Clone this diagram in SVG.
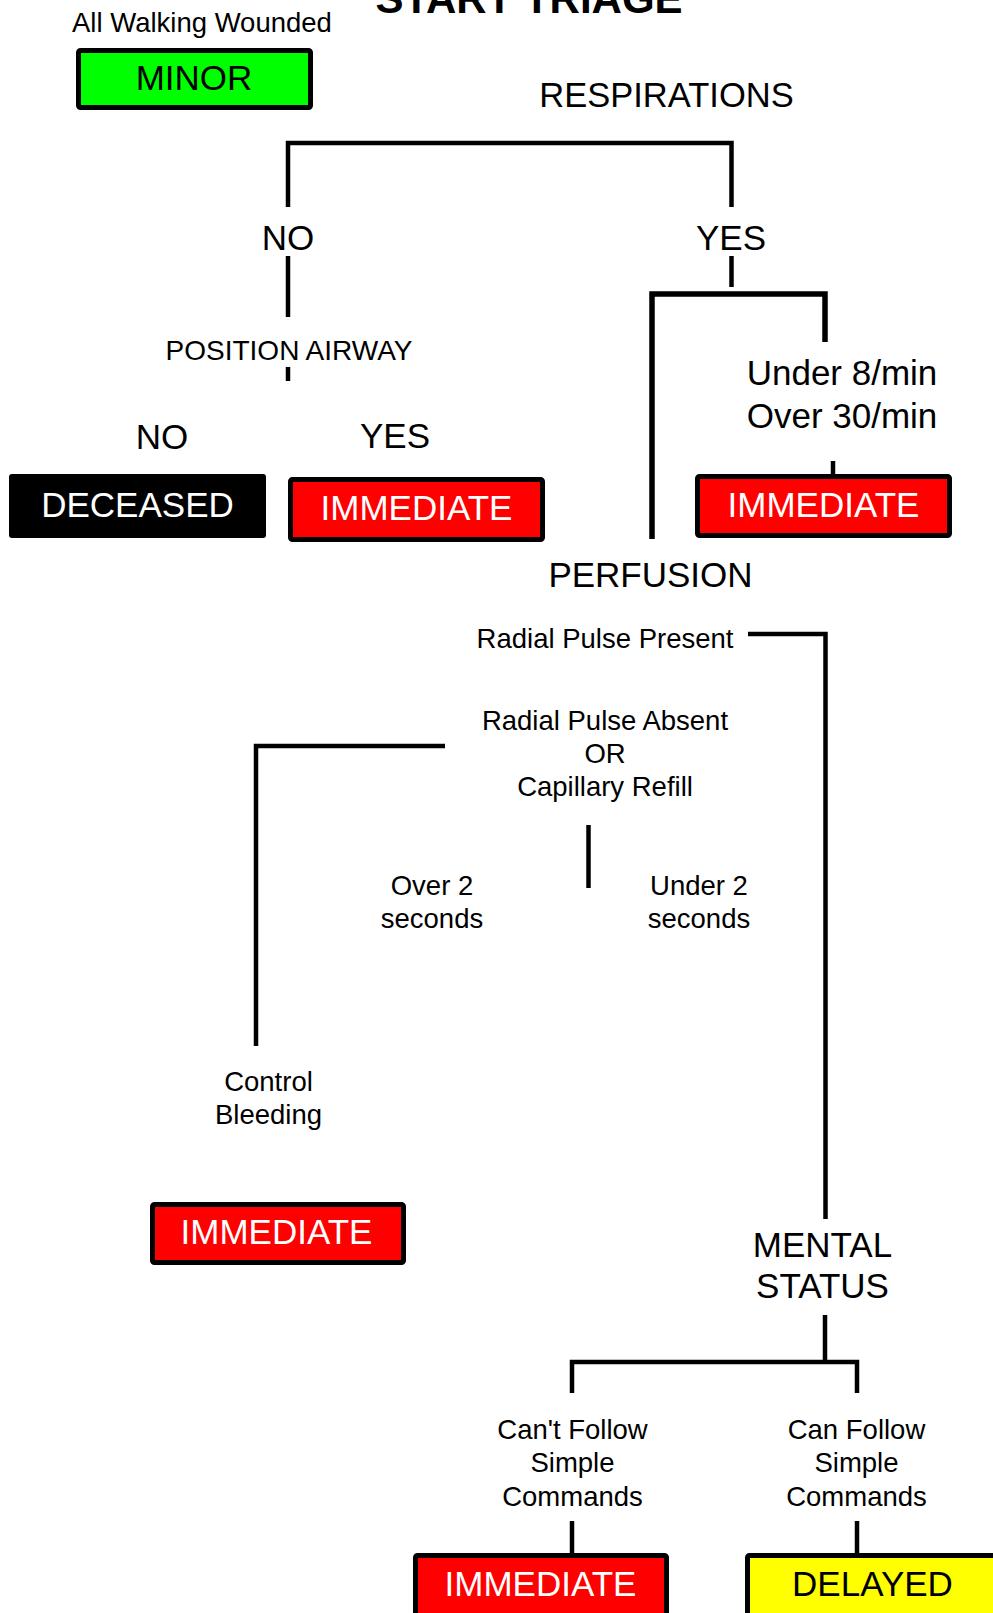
<svg xmlns="http://www.w3.org/2000/svg" width="993" height="1613" viewBox="0 0 993 1613">
<style>
text{font-family:"Liberation Sans",Arial,sans-serif;fill:#000;text-anchor:middle}
.title{font-size:42px;font-weight:bold}
.l{font-size:35px}
.m{font-size:34.5px}
.s{font-size:27.5px}
.w{fill:#fff}
.box{stroke:#000;stroke-width:5}
.conn path{fill:none;stroke:#000;stroke-width:4.5}
</style>
<rect width="993" height="1613" fill="#fff"/>
<g id="title"><text class="title" x="529" y="13">START TRIAGE</text></g>
<g id="walking"><text class="s" x="72" y="32" style="text-anchor:start">All Walking Wounded</text></g>
<g id="minor"><rect class="box" x="78.5" y="50.5" width="232" height="57" rx="2" fill="#00ff00"/><text class="l" x="194" y="90">MINOR</text></g>
<g id="respirations"><text class="m" x="666.5" y="107">RESPIRATIONS</text></g>
<g class="conn" id="connectors">
<path d="M288,207 V143 H731.5 V207"/>
<path d="M288,256 V317"/>
<path d="M288,367 V381"/>
<path d="M731.5,256 V287"/>
<path d="M652,539 V294 H825 V342" style="stroke-width:5.5"/>
<path d="M833,461 V475"/>
<path d="M748,634 H825.5 V1219"/>
<path d="M445,746 H256 V1046"/>
<path d="M588.5,825 V888"/>
<path d="M825,1315 V1362"/>
<path d="M572,1393 V1362 H857 V1393"/>
<path d="M572,1521 V1553"/>
<path d="M857,1521 V1553"/>
</g>
<g id="no1"><text class="l" x="288" y="250">NO</text></g>
<g id="yes1"><text class="l" x="731" y="250">YES</text></g>
<g id="position"><text class="s" x="289" y="360" style="font-size:28px">POSITION AIRWAY</text></g>
<g id="no2"><text class="l" x="162" y="449">NO</text></g>
<g id="yes2"><text class="l" x="395" y="448">YES</text></g>
<g id="deceased"><rect x="9" y="474" width="257" height="64" rx="3" fill="#000"/><text class="l w" x="137.5" y="517">DECEASED</text></g>
<g id="immediate1"><rect class="box" x="290.5" y="479.5" width="252" height="60" rx="2" fill="#ff0000"/><text class="l w" x="416.5" y="520">IMMEDIATE</text></g>
<g id="rate"><text class="l" x="842" y="385">Under 8/min</text><text class="l" x="842" y="428">Over 30/min</text></g>
<g id="immediate2"><rect class="box" x="697.5" y="476.5" width="252" height="59" rx="2" fill="#ff0000"/><text class="l w" x="823.5" y="517">IMMEDIATE</text></g>
<g id="perfusion"><text class="l" x="650.5" y="587">PERFUSION</text></g>
<g id="present"><text class="s" x="605" y="648">Radial Pulse Present</text></g>
<g id="absent"><text class="s" x="605" y="730">Radial Pulse Absent</text><text class="s" x="605" y="763">OR</text><text class="s" x="605" y="796">Capillary Refill</text></g>
<g id="over2"><text class="s" x="432" y="895">Over 2</text><text class="s" x="432" y="928">seconds</text></g>
<g id="under2"><text class="s" x="699" y="895">Under 2</text><text class="s" x="699" y="928">seconds</text></g>
<g id="control"><text class="s" x="268.5" y="1091">Control</text><text class="s" x="268.5" y="1124">Bleeding</text></g>
<g id="immediate3"><rect class="box" x="152.5" y="1204.5" width="251" height="58" rx="2" fill="#ff0000"/><text class="l w" x="276.5" y="1244">IMMEDIATE</text></g>
<g id="mental"><text class="l" x="822.5" y="1257">MENTAL</text><text class="l" x="822.5" y="1298">STATUS</text></g>
<g id="cant"><text class="s" x="572.5" y="1439">Can't Follow</text><text class="s" x="572.5" y="1472">Simple</text><text class="s" x="572.5" y="1506">Commands</text></g>
<g id="can"><text class="s" x="856.5" y="1439">Can Follow</text><text class="s" x="856.5" y="1472">Simple</text><text class="s" x="856.5" y="1506">Commands</text></g>
<g id="immediate4"><rect class="box" x="415.5" y="1555.5" width="251" height="60" rx="2" fill="#ff0000"/><text class="l w" x="540.5" y="1596">IMMEDIATE</text></g>
<g id="delayed"><rect class="box" x="747.5" y="1555.5" width="260" height="60" rx="2" fill="#ffff00"/><text class="l" x="872.5" y="1596">DELAYED</text></g>
</svg>
